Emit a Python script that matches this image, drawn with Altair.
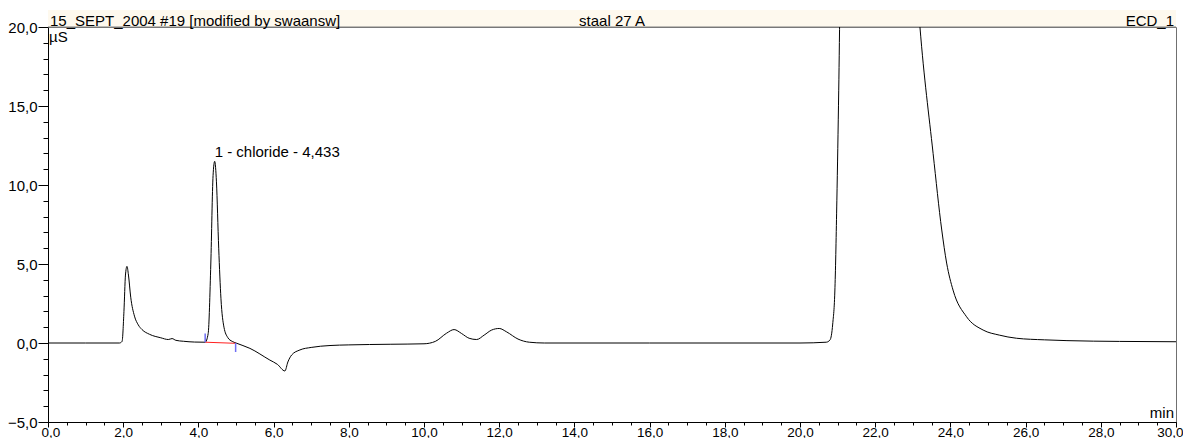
import altair as alt
import pandas as pd

# ---- chromatogram trace ----
time_min = [0.0, 1.0, 1.9, 1.97, 2.02, 2.06, 2.1, 2.14, 2.2, 2.3, 2.4, 2.5, 2.7, 3.0, 3.2,
            3.3, 3.4, 3.6, 3.9, 4.18, 4.26, 4.33, 4.39, 4.433, 4.48, 4.54, 4.6, 4.68, 4.78,
            4.9, 5.0, 5.37, 5.9, 6.1, 6.3, 6.38, 6.48, 6.7, 7.0, 7.5, 8.0, 9.1, 10.0, 10.3,
            10.6, 10.8, 11.0, 11.2, 11.4, 11.6, 11.8, 12.0, 12.2, 12.5, 12.8, 13.2, 16.0,
            20.0, 20.7, 20.8, 20.87, 20.93, 20.98, 21.03, 21.1, 21.5, 22.3, 22.9, 23.19,
            23.54, 23.77, 23.9, 24.07, 24.43, 24.87, 25.3, 25.76, 26.5, 27.1, 28.5, 30.0]
signal_uS = [0.0, 0.0, 0.0, 0.1, 2.0, 4.3, 4.85, 4.3, 2.9, 1.7, 1.15, 0.85, 0.55, 0.33, 0.22,
             0.28, 0.17, 0.11, 0.06, 0.05, 0.6, 5.0, 10.6, 11.5, 10.2, 6.0, 2.8, 1.0, 0.35,
             0.1, 0.0, -0.34, -1.08, -1.35, -1.77, -1.2, -0.76, -0.44, -0.28, -0.16, -0.12, -0.08, -0.05, 0.1,
             0.62, 0.85, 0.6, 0.3, 0.22, 0.5, 0.82, 0.92, 0.7, 0.25, 0.05, 0.0, 0.0,
             0.0, 0.05, 0.2, 1.2, 3.5, 9.0, 16.0, 28.0, 50.0, 48.0, 30.0, 20.0,
             12.0, 7.15, 5.06, 3.35, 1.66, 0.82, 0.5, 0.3, 0.2, 0.15, 0.1, 0.08]

# integration baseline and delimiters of peak 1
base_t = [4.18, 5.0]
base_v = [0.05, -0.02]
delim_t = [4.18, 4.99]
delim_lo = [0.05, -0.57]
delim_hi = [0.6, 0.0]

peak_label = ["1 - chloride - 4,433"]
peak_t = [4.433]
peak_v = [11.5]

header_left = "15_SEPT_2004 #19 [modified by swaansw]"
header_mid = "staal 27 A"
header_right = "ECD_1"

x_major = [0, 2, 4, 6, 8, 10, 12, 14, 16, 18, 20, 22, 24, 26, 28, 30]
x_minor = [i * 0.5 for i in range(61)]
y_major = [-5, 0, 5, 10, 15, 20]
y_minor = list(range(-5, 21))

W, H = 1128, 395
FONT = "Liberation Sans"
FS = 15
LBL = "replace(format(datum.value, '.1f'), '.', ',')"

trace = pd.DataFrame({"t": time_min, "v": signal_uS})
xs = alt.Scale(domain=[0, 30], nice=False, zero=False)
ys = alt.Scale(domain=[-5, 20], nice=False, zero=False)

header = alt.Chart(pd.DataFrame({"a": [0]})).mark_rect(color="#FEF9EE").encode(
    x=alt.value(0), x2=alt.value(W), y=alt.value(-17), y2=alt.value(0))
header_line = alt.Chart(pd.DataFrame({"a": [0]})).mark_rule(color="#808080").encode(
    x=alt.value(0), x2=alt.value(W), y=alt.value(0))

line = alt.Chart(trace).mark_line(color="black", strokeWidth=1, clip=True,
                                  interpolate="monotone").encode(
    x=alt.X("t:Q", scale=xs, axis=alt.Axis(
        values=x_major, orient="bottom", tickSize=5, labelExpr=LBL, title=None,
        grid=False, labelFontSize=13.5, labelFont=FONT, labelColor="black",
        labelBaseline="alphabetic", labelPadding=9,
        domainColor="black", tickColor="black",
        labelFlush=True, labelFlushOffset=7)),
    y=alt.Y("v:Q", scale=ys, axis=alt.Axis(
        values=y_major, orient="left", tickSize=10, labelExpr=LBL, title=None,
        grid=False, labelFontSize=FS, labelFont=FONT, labelColor="black",
        domainColor="black", tickColor="black", labelPadding=1, labelFlush=False)),
)

minor = alt.Chart(trace).mark_line(opacity=0).encode(
    x=alt.X("t:Q", scale=xs, axis=alt.Axis(
        values=x_minor, orient="bottom", tickSize=3, labels=False, domain=False,
        grid=False, title=None, tickColor="black")),
    y=alt.Y("v:Q", scale=ys, axis=alt.Axis(
        values=y_minor, orient="left", tickSize=5, labels=False, domain=False,
        grid=False, title=None, tickColor="black")),
)

base = alt.Chart(pd.DataFrame({"t": base_t, "v": base_v})).mark_line(
    color="#FF2020", strokeWidth=1).encode(
    x=alt.X("t:Q", scale=xs, axis=None), y=alt.Y("v:Q", scale=ys, axis=None))

delims = alt.Chart(pd.DataFrame({"t": delim_t, "lo": delim_lo, "hi": delim_hi})).mark_rule(
    color="#6E6EF5", strokeWidth=1.5).encode(
    x=alt.X("t:Q", scale=xs, axis=None),
    y=alt.Y("lo:Q", scale=ys, axis=None), y2="hi:Q")

ann = alt.Chart(pd.DataFrame({"t": peak_t, "v": peak_v, "s": peak_label})).mark_text(
    align="left", baseline="alphabetic", dy=-4, fontSize=FS, font=FONT, color="black").encode(
    x=alt.X("t:Q", scale=xs, axis=None), y=alt.Y("v:Q", scale=ys, axis=None), text="s:N")

def htext(txt, xpos, align, ypos):
    return alt.Chart(pd.DataFrame({"s": [txt]})).mark_text(
        align=align, baseline="alphabetic", fontSize=FS, font=FONT, color="black").encode(
        x=alt.value(xpos), y=alt.value(ypos), text="s:N")

chart = alt.layer(
    header, header_line, minor, line, base, delims, ann,
    htext(header_left, 2, "left", -1),
    htext(header_mid, W / 2, "center", -1),
    htext(header_right, W - 2, "right", -1),
    htext("µS", 1, "left", 15),
    htext("min", W - 2, "right", 391),
).resolve_axis(x="independent", y="independent").properties(
    width=W, height=H,
    autosize=alt.AutoSizeParams(type="none"),
    padding={"left": 40, "top": 19, "right": 7, "bottom": 16},
).configure_view(stroke="#707070")

chart.save("out.html", embed_options={"renderer": "svg", "actions": False})
